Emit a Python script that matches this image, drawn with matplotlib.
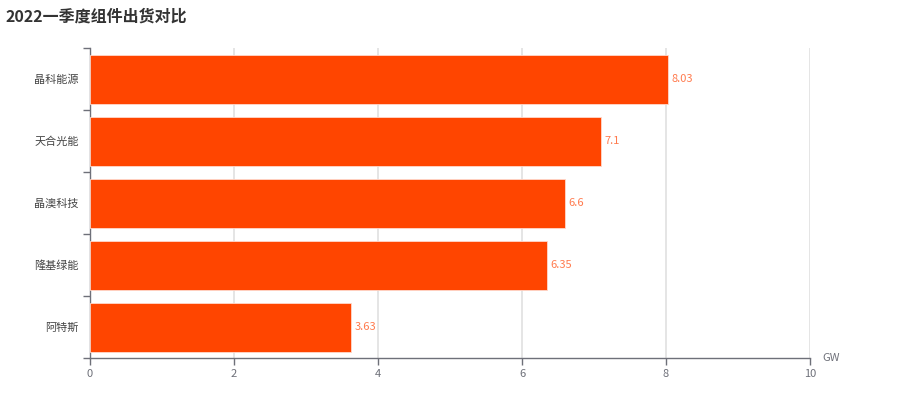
import matplotlib.pyplot as plt
import numpy as np

plt.rcParams['font.family'] = ['Noto Sans CJK SC', 'DejaVu Sans']

# data (top to bottom in the picture)
companies = ["晶科能源", "天合光能", "晶澳科技", "隆基绿能", "阿特斯"]
shipments = [8.03, 7.1, 6.6, 6.35, 3.63]
x_ticks = [0, 2, 4, 6, 8, 10]

bar_color = "#ff4500"
label_color = "#ff7a4d"
axis_color = "#6e7079"

fig = plt.figure(figsize=(9, 4.07), dpi=100)
ax = fig.add_axes([0.1, 0.12, 0.8, 0.762])

y = np.arange(len(companies))[::-1]
bars = ax.barh(y, shipments, height=0.79, color=bar_color, edgecolor="#ffd9cc", linewidth=0.6, zorder=3)
for b, v in zip(bars, shipments):
    ax.text(b.get_width() + 0.05, b.get_y() + b.get_height() / 2, f"{v:g}",
            va="center", ha="left", fontsize=8, color=label_color)

ax.set_xlim(0, 10)
ax.set_ylim(-0.5, len(companies) - 0.5)
ax.set_xticks(x_ticks)
ax.set_xticklabels([str(t) for t in x_ticks], fontsize=8, color=axis_color)
ax.xaxis.grid(True, color="#e0e0e0", linewidth=1.2, zorder=0)
ax.set_axisbelow(True)

# y ticks at band boundaries, labels at band centres
ax.set_yticks(y)
ax.set_yticklabels(companies, fontsize=8, color="#444444")
ax.tick_params(axis="y", which="major", length=0, pad=8)
ax.set_yticks(np.arange(-0.5, len(companies), 1), minor=True)
ax.tick_params(axis="y", which="minor", length=5, color=axis_color, width=1)
ax.tick_params(axis="x", length=5, color=axis_color, width=1, pad=3)

for s in ["top", "right"]:
    ax.spines[s].set_visible(False)
ax.spines["left"].set_color(axis_color)
ax.spines["bottom"].set_color(axis_color)
ax.spines["left"].set_linewidth(1)
ax.spines["bottom"].set_linewidth(1)

ax.text(10.17, -0.5, "GW", fontsize=8, color=axis_color, va="center", ha="left")

fig.text(0.006, 0.978, "2022一季度组件出货对比", fontsize=11.5, fontweight="bold", color="#333333", va="top", ha="left")

fig.savefig("out.png", dpi=100)
